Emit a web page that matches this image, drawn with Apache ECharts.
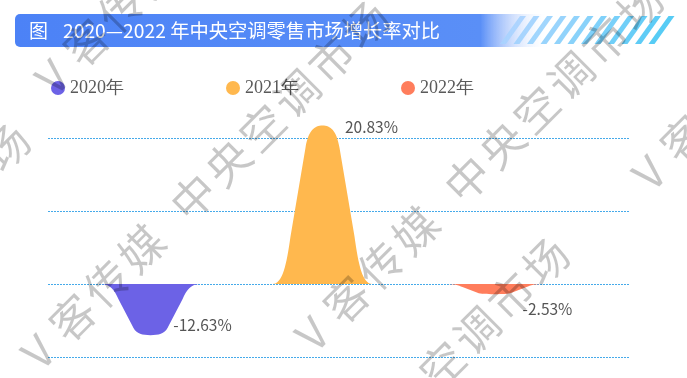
<!DOCTYPE html>
<html lang="zh">
<head>
<meta charset="utf-8">
<title>2020—2022 年中央空调零售市场增长率对比</title>
</head>
<body style="margin: 0">
<div id="container" style="width: 687px; height: 378px"></div>

<script type="text/javascript" src="https://cdn.jsdelivr.net/npm/echarts@6/dist/echarts.min.js"></script>

<script type="text/javascript">
var dom = document.getElementById('container');
var myChart = echarts.init(dom);

// Data
var years = ['2020年', '2021年', '2022年'];
var growth = [-12.63, 20.83, -2.53];

// Styles
var colors = ['#6c62e6', '#ffb84e', '#ff7d5c'];
var labelOffsets = [[36, 15], [33, -78], [37, 20]];
var bell = 'path://M0,100 C10,100 14,88 18,70 L33,14 C36,3 42,0 50,0 C58,0 64,3 67,14 L82,70 C86,88 90,100 100,100 Z';

// title bar decoration
var titleBar = [{
    type: 'rect',
    shape: { x: 15, y: 14, width: 535, height: 33, r: 5 },
    style: {
        fill: new echarts.graphic.LinearGradient(0, 0, 1, 0, [
            { offset: 0, color: '#4c82f6' },
            { offset: 0.87, color: '#5a8ff7' },
            { offset: 1, color: 'rgba(255,255,255,0)' }
        ])
    }
}];
for (var i = 0; i < 12; i++) {
    var x0 = 500 + i * 13.5;
    var t = i / 11;
    titleBar.push({
        type: 'polygon',
        shape: { points: [[x0, 44], [x0 + 6, 44], [x0 + 26, 16], [x0 + 20, 16]] },
        style: { fill: echarts.color.lerp(t, ['#a9d3ff', '#45c6f4']), opacity: 0.9 }
    });
}
titleBar.push({
    type: 'text', x: 29, y: 31,
    style: { text: '图', fill: '#fff', font: '19px "Noto Sans CJK SC"', verticalAlign: 'middle' }
}, {
    type: 'text', x: 63, y: 31,
    style: { text: '2020—2022 年中央空调零售市场增长率对比', fill: '#fff', font: '19.3px "Noto Sans CJK SC"', verticalAlign: 'middle' }
});

// watermark, one entry per diagonal line (centre of the "V")
var markText = ['V', '客', '传', '媒', '', '中', '央', '空', '调', '市', '场'];
var markStarts = [[38, 352], [312, 334], [649, 173], [52, 77], [218, 589], [-321, 475]];
var watermark = [];
markStarts.forEach(function (p) {
    markText.forEach(function (ch, idx) {
        if (ch) {
            var step = idx <= 3 ? idx : idx - 0.5;
            watermark.push({
                type: 'text',
                x: p[0] + step * 34.5,
                y: p[1] - step * 34.5,
                rotation: Math.PI / 4,
                z: 100,
                silent: true,
                style: {
                    text: ch, fill: 'rgba(0,0,0,0.22)',
                    font: '44px "Noto Sans CJK SC"',
                    align: 'center', verticalAlign: 'middle'
                }
            });
        }
    });
});

var seriesData = years.map(function (name, idx) {
    return {
        name: name,
        type: 'pictorialBar',
        yAxisIndex: growth[idx] >= 0 ? 1 : 2,
        barWidth: 100,
        barGap: '72%',
        symbol: bell,
        symbolOffset: [-16, 0],
        itemStyle: { color: colors[idx] },
        label: {
            show: true,
            position: 'inside',
            offset: labelOffsets[idx],
            formatter: '{c}%',
            color: '#555',
            fontSize: 15.5,
            fontFamily: 'Noto Sans CJK SC'
        },
        data: [growth[idx]]
    };
});

var option = {
    color: colors,
    legend: {
        data: years,
        icon: 'circle',
        left: 46,
        top: 74,
        itemWidth: 14,
        itemHeight: 14,
        itemGap: 102,
        textStyle: { color: '#5a5a5a', fontSize: 18, fontFamily: '"Liberation Serif", "DejaVu Serif", serif' }
    },
    grid: { left: 48, right: 58, top: 138, bottom: 21 },
    xAxis: {
        type: 'category',
        data: ['增长率'],
        axisLine: { show: false },
        axisTick: { show: false },
        axisLabel: { show: false }
    },
    yAxis: [{
        type: 'value', min: -10, max: 20, interval: 10,
        axisLine: { show: false },
        axisTick: { show: false },
        axisLabel: { show: false },
        splitLine: { lineStyle: { color: '#45aaea', width: 1, type: [2, 1] } }
    }, {
        type: 'value', min: -9.6, max: 19.2, show: false, splitLine: { show: false }
    }, {
        type: 'value', min: -18, max: 36, show: false, splitLine: { show: false }
    }],
    graphic: titleBar.concat(watermark),
    series: seriesData
};

myChart.setOption(option);
window.addEventListener('resize', myChart.resize);
</script>
</body>
</html>
